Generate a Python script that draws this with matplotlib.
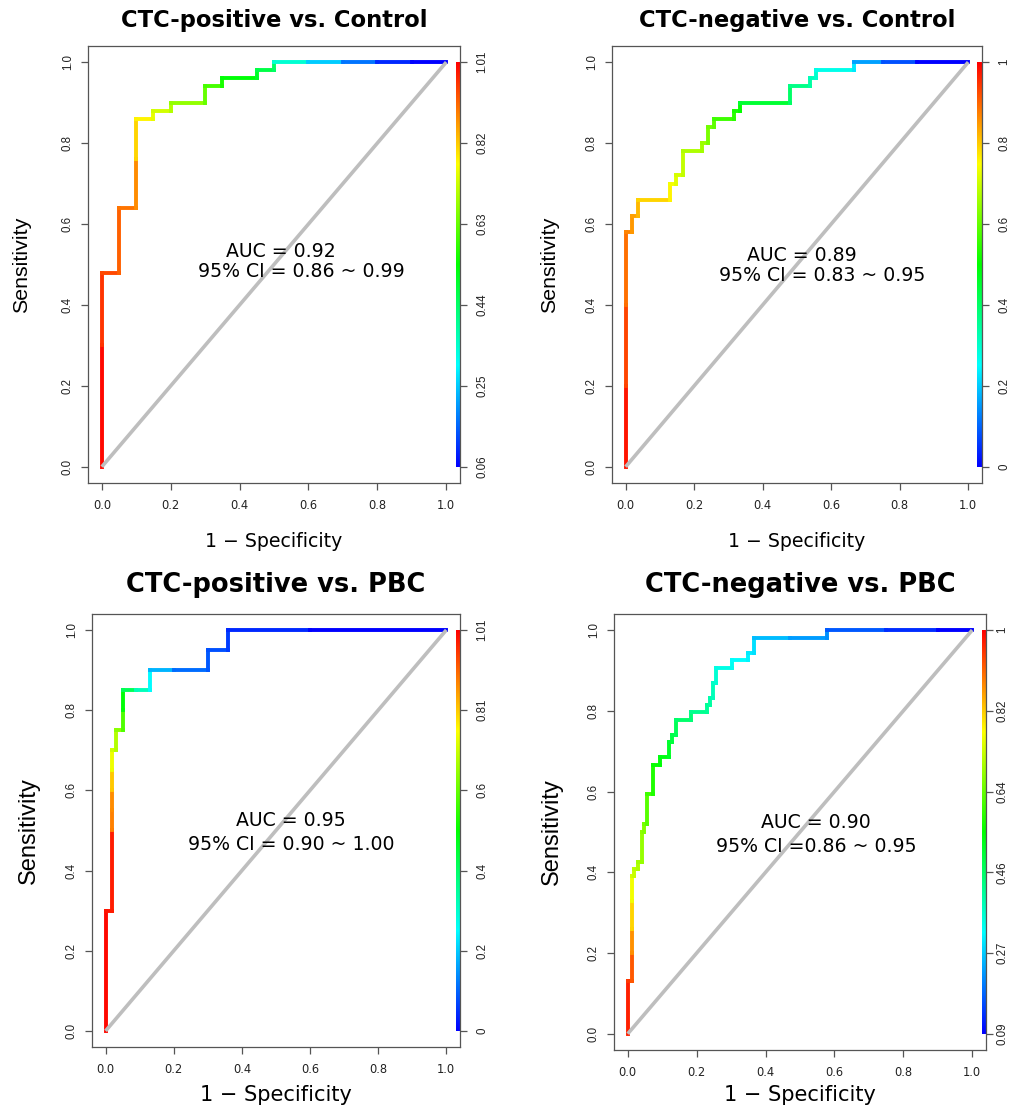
import numpy as np
import matplotlib
matplotlib.use('Agg')
import matplotlib.pyplot as plt
from matplotlib.collections import LineCollection
from matplotlib.colors import ListedColormap, Normalize, hsv_to_rgb

plt.rcParams['font.family'] = ['DejaVu Sans']
ROT_FONT = ['Liberation Sans', 'DejaVu Sans']

# ---- ROC points: 1 - specificity, sensitivity, cutoff at that point ----
fpr_pos_ctrl = [0, 0, 0, 0.05, 0.05, 0.10, 0.10, 0.10, 0.15, 0.15, 0.20, 0.20, 0.30,
                0.30, 0.35, 0.35, 0.45, 0.45, 0.50, 0.50, 0.60, 0.70, 0.80, 0.90, 1.00]
tpr_pos_ctrl = [0, 0.30, 0.48, 0.48, 0.64, 0.64, 0.76, 0.86, 0.86, 0.88, 0.88, 0.90, 0.90,
                0.94, 0.94, 0.96, 0.96, 0.98, 0.98, 1.00, 1.00, 1.00, 1.00, 1.00, 1.00]
cut_pos_ctrl = [1.01, 1.00, 0.96, 0.94, 0.92, 0.90, 0.88, 0.81, 0.78, 0.75, 0.73, 0.70, 0.67,
                0.63, 0.60, 0.56, 0.53, 0.50, 0.47, 0.44, 0.34, 0.25, 0.17, 0.10, 0.06]

fpr_neg_ctrl = [0, 0, 0, 0, 0.019, 0.019, 0.037, 0.037, 0.130, 0.130, 0.148, 0.148, 0.167,
                0.167, 0.222, 0.222, 0.241, 0.241, 0.259, 0.259, 0.315, 0.315, 0.333,
                0.333, 0.481, 0.481, 0.537, 0.537, 0.556, 0.556, 0.667, 0.667, 0.750,
                0.850, 1.000]
tpr_neg_ctrl = [0, 0.20, 0.40, 0.58, 0.58, 0.62, 0.62, 0.66, 0.66, 0.70, 0.70, 0.72, 0.72,
                0.78, 0.78, 0.80, 0.80, 0.84, 0.84, 0.86, 0.86, 0.88, 0.88, 0.90, 0.90,
                0.94, 0.94, 0.96, 0.96, 0.98, 0.98, 1.00, 1.00, 1.00, 1.00]
cut_neg_ctrl = [1.00, 0.98, 0.93, 0.89, 0.87, 0.85, 0.84, 0.82, 0.79, 0.76, 0.74, 0.72, 0.71,
                0.69, 0.67, 0.66, 0.65, 0.62, 0.61, 0.59, 0.56, 0.54, 0.52, 0.50, 0.45,
                0.40, 0.37, 0.34, 0.32, 0.30, 0.27, 0.23, 0.16, 0.08, 0.00]

fpr_pos_pbc = [0, 0, 0.02, 0.02, 0.02, 0.02, 0.02, 0.02, 0.03, 0.03, 0.05, 0.05, 0.05,
               0.09, 0.13, 0.13, 0.20, 0.30, 0.30, 0.36, 0.36, 0.60, 1.00]
tpr_pos_pbc = [0, 0.30, 0.30, 0.50, 0.55, 0.60, 0.65, 0.70, 0.70, 0.75, 0.75, 0.80, 0.85,
               0.85, 0.85, 0.90, 0.90, 0.90, 0.95, 0.95, 1.00, 1.00, 1.00]
cut_pos_pbc = [1.01, 1.00, 0.99, 0.98, 0.88, 0.87, 0.81, 0.74, 0.71, 0.68, 0.64, 0.58, 0.50,
               0.42, 0.32, 0.25, 0.18, 0.11, 0.09, 0.08, 0.06, 0.04, 0.00]

fpr_neg_pbc = [0, 0, 0.012, 0.012, 0.012, 0.012, 0.012, 0.019, 0.019, 0.030, 0.030, 0.040,
               0.040, 0.048, 0.048, 0.057, 0.057, 0.074, 0.074, 0.093, 0.093, 0.121, 0.121,
               0.129, 0.129, 0.139, 0.139, 0.185, 0.185, 0.231, 0.231, 0.240, 0.240, 0.248,
               0.248, 0.257, 0.257, 0.303, 0.303, 0.350, 0.350, 0.367, 0.367, 0.470, 0.579,
               0.579, 0.750, 0.900, 1.000]
tpr_neg_pbc = [0, 0.130, 0.130, 0.200, 0.260, 0.330, 0.390, 0.390, 0.407, 0.407, 0.426,
               0.426, 0.500, 0.500, 0.519, 0.519, 0.593, 0.593, 0.667, 0.667, 0.685, 0.685,
               0.722, 0.722, 0.741, 0.741, 0.778, 0.778, 0.796, 0.796, 0.815, 0.815, 0.833,
               0.833, 0.870, 0.870, 0.907, 0.907, 0.926, 0.926, 0.944, 0.944, 0.981, 0.981,
               0.981, 1.000, 1.000, 1.000, 1.000]
cut_neg_pbc = [1.00, 0.97, 0.95, 0.92, 0.87, 0.81, 0.76, 0.73, 0.72, 0.71, 0.70, 0.69,
               0.68, 0.67, 0.66, 0.65, 0.62, 0.60, 0.57, 0.55, 0.54, 0.53, 0.51, 0.50,
               0.49, 0.48, 0.47, 0.45, 0.44, 0.42, 0.41, 0.41, 0.40, 0.39, 0.38, 0.37,
               0.36, 0.34, 0.33, 0.32, 0.31, 0.30, 0.29, 0.26, 0.23, 0.22, 0.17, 0.13, 0.09]

# colour-bar labels (cutoff values at 0, 0.2, ..., 1)
cb_pos_ctrl = ["0.06", "0.25", "0.44", "0.63", "0.82", "1.01"]
cb_neg_ctrl = ["0", "0.2", "0.4", "0.6", "0.8", "1"]
cb_pos_pbc = ["0", "0.2", "0.4", "0.6", "0.81", "1.01"]
cb_neg_pbc = ["0.09", "0.27", "0.46", "0.64", "0.82", "1"]

titles = ["CTC-positive vs. Control", "CTC-negative vs. Control",
          "CTC-positive vs. PBC", "CTC-negative vs. PBC"]
auc_txt = ["AUC = 0.92", "AUC = 0.89", "AUC = 0.95", "AUC = 0.90"]
ci_txt = ["95% CI = 0.86 ~ 0.99", "95% CI = 0.83 ~ 0.95",
          "95% CI = 0.90 ~ 1.00", "95% CI =0.86 ~ 0.95"]

ticks = [0, 0.2, 0.4, 0.6, 0.8, 1.0]
tick_txt = ["0.0", "0.2", "0.4", "0.6", "0.8", "1.0"]

# R-style rainbow palette, blue (low cutoff) -> red (high cutoff)
hues = np.linspace(2 / 3, 0, 256)
rainbow = ListedColormap(hsv_to_rgb(np.column_stack([hues, np.ones(256), np.ones(256)])))

panels = [
    dict(rect=[0.0870, 0.5649, 0.3676, 0.3937], fpr=fpr_pos_ctrl, tpr=tpr_pos_ctrl,
         cut=cut_pos_ctrl, cb=cb_pos_ctrl, auc_xy=(0.52, 0.532), ci_xy=(0.58, 0.483),
         ylab_x=-0.233, xlab_y=-0.185, title_y=1.104, big=False, rpad=6.8),
    dict(rect=[0.6047, 0.5649, 0.3656, 0.3937], fpr=fpr_neg_ctrl, tpr=tpr_neg_ctrl,
         cut=cut_neg_ctrl, cb=cb_neg_ctrl, auc_xy=(0.515, 0.522), ci_xy=(0.573, 0.473),
         ylab_x=-0.221, xlab_y=-0.185, title_y=1.104, big=False, rpad=6.8),
    dict(rect=[0.0909, 0.0568, 0.3636, 0.3901], fpr=fpr_pos_pbc, tpr=tpr_pos_pbc,
         cut=cut_pos_pbc, cb=cb_pos_pbc, auc_xy=(0.545, 0.524), ci_xy=(0.545, 0.464),
         ylab_x=-0.226, xlab_y=-0.16, title_y=1.112, big=True, rpad=6.8),
    dict(rect=[0.6067, 0.0541, 0.3676, 0.3928], fpr=fpr_neg_pbc, tpr=tpr_neg_pbc,
         cut=cut_neg_pbc, cb=cb_neg_pbc, auc_xy=(0.547, 0.524), ci_xy=(0.547, 0.465),
         ylab_x=-0.22, xlab_y=-0.151, title_y=1.112, big=True, rpad=2.5),
]

fig = plt.figure(figsize=(10.12, 11.1), dpi=100)
edge = '#555555'

for i, p in enumerate(panels):
    ax = fig.add_axes(p['rect'])
    lo, hi = float(p['cb'][0]), float(p['cb'][-1])
    norm = Normalize(lo, hi)

    # coloured ROC curve, each piece takes the cutoff of its end point
    pts = np.column_stack([p['fpr'], p['tpr']])
    segs = np.stack([pts[:-1], pts[1:]], axis=1)
    lc = LineCollection(segs, cmap=rainbow, norm=norm, linewidths=2.8,
                        capstyle='projecting', zorder=3)
    lc.set_array(np.asarray(p['cut'][1:]))
    ax.add_collection(lc)

    # chance line
    ax.plot([0, 1], [0, 1], color='#bebebe', lw=2.6, zorder=4, solid_capstyle='butt')

    # colour bar along the right edge
    ax.imshow(np.linspace(0, 1, 256).reshape(-1, 1), extent=[1.027, 1.039, 0, 1],
              origin='lower', cmap=rainbow, aspect='auto', zorder=2)

    ax.set_xlim(-0.04, 1.04)
    ax.set_ylim(-0.04, 1.04)

    for s in ax.spines.values():
        s.set_color(edge)
        s.set_linewidth(0.9)

    ax.set_xticks(ticks, tick_txt)
    ax.set_yticks(ticks, tick_txt)
    ax.tick_params(axis='x', length=5, width=0.9, color=edge, pad=6.2,
                   labelsize=8.3, labelcolor='#222222')
    ax.tick_params(axis='y', length=5, width=0.9, color=edge, pad=5.2,
                   labelsize=8.3, labelcolor='#222222')
    for lab in ax.get_yticklabels():
        lab.set_rotation(90)
        lab.set_va('center')
        lab.set_family(ROT_FONT)

    sec = ax.secondary_yaxis('right')
    sec.set_yticks(ticks, p['cb'])
    sec.spines['right'].set_visible(False)
    sec.tick_params(length=5, width=0.9, color=edge, pad=p['rpad'], labelsize=8.3,
                    labelcolor='#222222')
    for lab in sec.get_yticklabels():
        lab.set_rotation(90)
        lab.set_va('center')
        lab.set_family(ROT_FONT)

    big = p['big']
    ax.text(0.5, p['title_y'], titles[i], ha='center', va='center',
            fontsize=18.5 if big else 16.3, fontweight='bold', clip_on=False)
    ax.text(0.5, p['xlab_y'], "1 \u2212 Specificity", ha='center', va='center',
            fontsize=15 if big else 13.6, clip_on=False)
    ax.text(p['ylab_x'], 0.5, "Sensitivity", ha='center', va='center', rotation=90,
            fontsize=17 if big else 15.4, family=ROT_FONT, clip_on=False)

    ax.text(*p['auc_xy'], auc_txt[i], ha='center', va='center', fontsize=13.6, zorder=5)
    ax.text(*p['ci_xy'], ci_txt[i], ha='center', va='center', fontsize=13.6, zorder=5)

fig.savefig('out.png', dpi=100)
